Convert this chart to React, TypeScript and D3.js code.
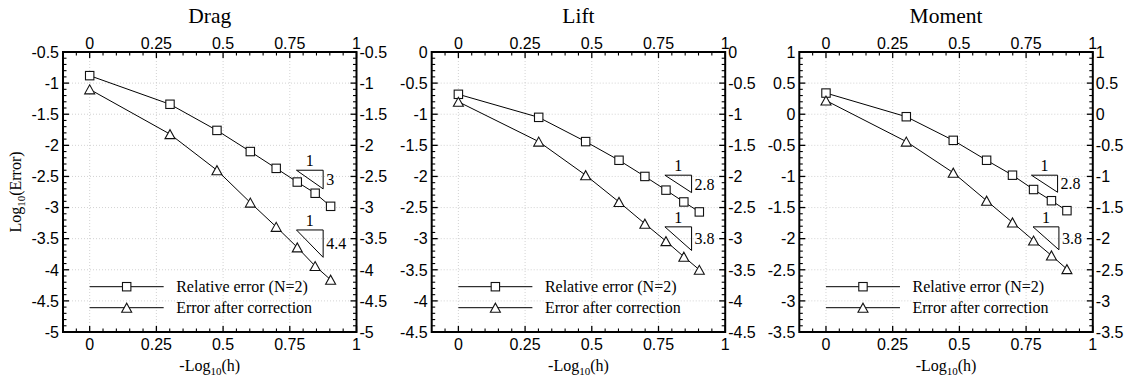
import React from "react";
import * as d3 from "d3";

const W = 1131;
const H = 379;

const panelTitles = ["Drag", "Lift", "Moment"];
const xVals = [0, 0.301, 0.477, 0.602, 0.699, 0.778, 0.845, 0.903];

const dragRelative = [-0.88, -1.34, -1.76, -2.1, -2.37, -2.59, -2.77, -2.98];
const dragCorrected = [-1.1, -1.82, -2.4, -2.92, -3.31, -3.64, -3.94, -4.16];
const liftRelative = [-0.68, -1.05, -1.44, -1.74, -2.0, -2.22, -2.41, -2.57];
const liftCorrected = [-0.8, -1.44, -1.98, -2.41, -2.76, -3.04, -3.29, -3.5];
const momentRelative = [0.34, -0.04, -0.42, -0.74, -0.98, -1.21, -1.39, -1.55];
const momentCorrected = [0.22, -0.44, -0.94, -1.39, -1.74, -2.03, -2.27, -2.49];

const xTickLabels = [0, 0.25, 0.5, 0.75, 1];
const dragYTicks = [-0.5, -1, -1.5, -2, -2.5, -3, -3.5, -4, -4.5, -5];
const liftYTicks = [0, -0.5, -1, -1.5, -2, -2.5, -3, -3.5, -4, -4.5];
const momentYTicks = [1, 0.5, 0, -0.5, -1, -1.5, -2, -2.5, -3, -3.5];

const seriesNames = ["Relative error (N=2)", "Error after correction"];

// slope triangles: [x0, x1, yTop, slope, label]
const dragSlopes: [number, number, number, number, string][] = [
  [0.775, 0.875, -2.4, 3, "3"],
  [0.775, 0.875, -3.36, 4.4, "4.4"],
];
const liftSlopes: [number, number, number, number, string][] = [
  [0.774, 0.874, -1.98, 2.8, "2.8"],
  [0.774, 0.874, -2.81, 3.8, "3.8"],
];
const momentSlopes: [number, number, number, number, string][] = [
  [0.77, 0.868, -0.98, 2.8, "2.8"],
  [0.776, 0.873, -1.81, 3.8, "3.8"],
];

const panels = [
  { title: panelTitles[0], rel: dragRelative, cor: dragCorrected, yTicks: dragYTicks, slopes: dragSlopes, left: 63 },
  { title: panelTitles[1], rel: liftRelative, cor: liftCorrected, yTicks: liftYTicks, slopes: liftSlopes, left: 431.7 },
  { title: panelTitles[2], rel: momentRelative, cor: momentCorrected, yTicks: momentYTicks, slopes: momentSlopes, left: 799.3 },
];

const PW = 293.5;
const TOP = 52;
const BOTTOM = 332;
const sans: React.CSSProperties = { fontFamily: "'Liberation Sans', Arial, sans-serif", fontSize: 16 };
const serif = (size: number): React.CSSProperties => ({ fontFamily: "'Liberation Serif', 'Times New Roman', serif", fontSize: size });

function Square({ x, y }: { x: number; y: number }) {
  const s = 8.4;
  return <rect x={x - s / 2} y={y - s / 2} width={s} height={s} fill="white" stroke="#111" strokeWidth={1.1} />;
}
function Triangle({ x, y }: { x: number; y: number }) {
  const w = 10, h = 9;
  const pts = `${x - w / 2},${y + h / 2} ${x + w / 2},${y + h / 2} ${x},${y - h / 2}`;
  return <polygon points={pts} fill="white" stroke="#111" strokeWidth={1.1} />;
}

function fmt(v: number) {
  return String(v);
}

function Panel({ p }: { p: (typeof panels)[number] }) {
  const x = d3.scaleLinear().domain([-0.1, 1]).range([p.left, p.left + PW]);
  const yMax = d3.max(p.yTicks)!;
  const yMin = d3.min(p.yTicks)!;
  const y = d3.scaleLinear().domain([yMin, yMax]).range([BOTTOM, TOP]);
  const line = d3.line<number>().x((_, i) => x(xVals[i])).y((v) => y(v));
  const xMinor = d3.range(-0.05, 1.0001, 0.05).filter((v) => Math.abs(v / 0.25 - Math.round(v / 0.25)) > 1e-6);
  const yMinor = d3.range(yMin, yMax + 0.0001, 0.1).filter((v) => Math.abs(v / 0.5 - Math.round(v / 0.5)) > 1e-6);
  const L = p.left, R = p.left + PW;
  const cx = (L + R) / 2;
  const maj = 6, min = 3.5;
  const lx0 = x(0);
  const legendRows = [286.7, 307.7];
  return (
    <g>
      {xTickLabels.filter((v) => v < 1).map((v) => (
        <line key={"gx" + v} x1={x(v)} x2={x(v)} y1={TOP} y2={BOTTOM} stroke="#c8c8c8" strokeWidth={0.8} strokeDasharray="1,2" />
      ))}
      {p.yTicks.filter((v) => v !== yMin && v !== yMax).map((v) => (
        <line key={"gy" + v} x1={L} x2={R} y1={y(v)} y2={y(v)} stroke="#c8c8c8" strokeWidth={0.8} strokeDasharray="1,2" />
      ))}
      {xTickLabels.map((v) => (
        <g key={"xt" + v}>
          <line x1={x(v)} x2={x(v)} y1={BOTTOM} y2={BOTTOM - maj} stroke="#000" strokeWidth={1.3} />
          <line x1={x(v)} x2={x(v)} y1={TOP} y2={TOP + maj} stroke="#000" strokeWidth={1.3} />
          <text x={x(v)} y={350} textAnchor="middle" style={sans}>{fmt(v)}</text>
          <text x={x(v)} y={49} textAnchor="middle" style={sans}>{fmt(v)}</text>
        </g>
      ))}
      {xMinor.map((v) => (
        <g key={"xm" + v}>
          <line x1={x(v)} x2={x(v)} y1={BOTTOM} y2={BOTTOM - min} stroke="#000" strokeWidth={1.1} />
          <line x1={x(v)} x2={x(v)} y1={TOP} y2={TOP + min} stroke="#000" strokeWidth={1.1} />
        </g>
      ))}
      {p.yTicks.map((v) => (
        <g key={"yt" + v}>
          <line x1={L} x2={L + maj} y1={y(v)} y2={y(v)} stroke="#000" strokeWidth={1.3} />
          <line x1={R} x2={R - maj} y1={y(v)} y2={y(v)} stroke="#000" strokeWidth={1.3} />
          <text x={L - 4} y={y(v)} dy="0.36em" textAnchor="end" style={sans}>{fmt(v)}</text>
          <text x={R + 3} y={y(v)} dy="0.36em" textAnchor="start" style={sans}>{fmt(v)}</text>
        </g>
      ))}
      {yMinor.map((v) => (
        <g key={"ym" + v.toFixed(2)}>
          <line x1={L} x2={L + min} y1={y(v)} y2={y(v)} stroke="#000" strokeWidth={1.1} />
          <line x1={R} x2={R - min} y1={y(v)} y2={y(v)} stroke="#000" strokeWidth={1.1} />
        </g>
      ))}
      <rect x={L} y={TOP} width={PW} height={BOTTOM - TOP} fill="none" stroke="#000" strokeWidth={2} />
      <path d={line(p.rel)!} fill="none" stroke="#000" strokeWidth={1} />
      <path d={line(p.cor)!} fill="none" stroke="#000" strokeWidth={1} />
      {p.rel.map((v, i) => <Square key={"s" + i} x={x(xVals[i])} y={y(v)} />)}
      {p.cor.map((v, i) => <Triangle key={"t" + i} x={x(xVals[i])} y={y(v)} />)}
      {p.slopes.map(([a, b, yt, s, lab], i) => {
        const yb = yt - s * (b - a);
        const X0 = x(a), X1 = x(b), Y0 = y(yt), Y1 = y(yb);
        return (
          <g key={"sl" + i}>
            <path d={`M${X0},${Y0}L${X1},${Y0}L${X1},${Y1}Z`} fill="none" stroke="#000" strokeWidth={1} />
            <text x={(X0 + X1) / 2} y={Y0 - 4} textAnchor="middle" style={serif(16)}>1</text>
            <text x={X1 + 3} y={(Y0 + Y1) / 2} dy="0.35em" textAnchor="start" style={serif(16)}>{lab}</text>
          </g>
        );
      })}
      {legendRows.map((ry, i) => (
        <g key={"lg" + i}>
          <line x1={lx0} x2={lx0 + 74} y1={ry} y2={ry} stroke="#000" strokeWidth={1} />
          {i === 0 ? <Square x={lx0 + 37} y={ry} /> : <Triangle x={lx0 + 37} y={ry} />}
          <text x={lx0 + 86.5} y={ry} dy="0.33em" style={serif(16)}>{seriesNames[i]}</text>
        </g>
      ))}
      <text x={cx} y={23} textAnchor="middle" style={serif(21.5)}>{p.title}</text>
      <text x={cx} y={371} textAnchor="middle" style={serif(16)}>
        -Log<tspan style={{ fontSize: 11 }} dy={4}>10</tspan><tspan dy={-4}>(h)</tspan>
      </text>
    </g>
  );
}

export default function App() {
  return (
    <svg width={W} height={H} style={{ position: "absolute", left: 0, top: 0, background: "white" }}>
      <rect width={W} height={H} fill="white" />
      {panels.map((p) => <Panel key={p.title} p={p} />)}
      <text transform={`translate(21,${(TOP + BOTTOM) / 2}) rotate(-90)`} textAnchor="middle" style={serif(16)}>
        Log<tspan style={{ fontSize: 11 }} dy={4}>10</tspan><tspan dy={-4}>(Error)</tspan>
      </text>
    </svg>
  );
}
